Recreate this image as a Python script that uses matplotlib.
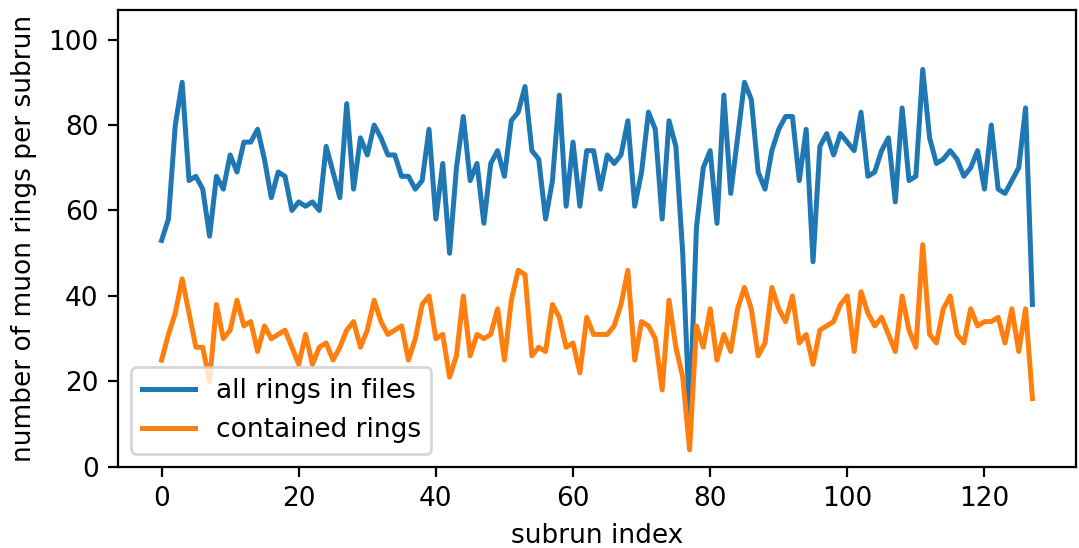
import numpy as np
import matplotlib
matplotlib.use("Agg")
import matplotlib.pyplot as plt

# muon rings per subrun
all_rings = [53, 58, 80, 90, 67, 68, 65, 54, 68, 65,
             73, 69, 76, 76, 79, 72, 63, 69, 68, 60,
             62, 61, 62, 60, 75, 69, 63, 85, 65, 77,
             73, 80, 77, 73, 73, 68, 68, 65, 67, 79,
             58, 71, 50, 70, 82, 67, 71, 57, 71, 74,
             68, 81, 83, 89, 74, 72, 58, 67, 87, 61,
             76, 61, 74, 74, 65, 73, 71, 73, 81, 61,
             69, 83, 79, 58, 81, 75, 50, 11, 56, 70,
             74, 57, 87, 64, 77, 90, 86, 69, 65, 74,
             79, 82, 82, 67, 79, 48, 75, 78, 73, 78,
             76, 74, 83, 68, 69, 74, 77, 62, 84, 67,
             68, 93, 77, 71, 72, 74, 72, 68, 70, 74,
             65, 80, 65, 64, 67, 70, 84, 38]

contained_rings = [25, 31, 36, 44, 36, 28, 28, 20, 38, 30,
                   32, 39, 33, 34, 27, 33, 30, 31, 32, 28,
                   24, 31, 24, 28, 29, 25, 28, 32, 34, 28,
                   32, 39, 34, 31, 32, 33, 25, 30, 38, 40,
                   30, 31, 21, 26, 40, 26, 31, 30, 31, 37,
                   25, 39, 46, 45, 26, 28, 27, 38, 35, 28,
                   29, 22, 35, 31, 31, 31, 33, 38, 46, 25,
                   34, 33, 30, 18, 39, 28, 21, 4, 33, 28,
                   37, 25, 31, 27, 37, 42, 37, 26, 29, 42,
                   37, 34, 40, 29, 31, 24, 32, 33, 34, 38,
                   40, 27, 41, 36, 33, 35, 31, 27, 40, 32,
                   28, 52, 31, 29, 37, 40, 31, 29, 37, 33,
                   34, 34, 35, 29, 37, 27, 37, 16]

subrun = np.arange(len(all_rings))

plt.rcParams['font.size'] = 9.5

fig = plt.figure(figsize=(1079 / 200, 548 / 200), dpi=200)
ax = fig.add_axes([0.1094, 0.148, 0.8878, 0.834])

ax.plot(subrun, all_rings, lw=1.8, label="all rings in files")
ax.plot(subrun, contained_rings, lw=1.8, label="contained rings")

ax.set_ylim(0, max(all_rings) * 1.15)
ax.set_xlabel("subrun index")
ax.set_ylabel("number of muon rings per subrun")
ax.legend(loc="lower left")

fig.savefig("out.png", dpi=200)
